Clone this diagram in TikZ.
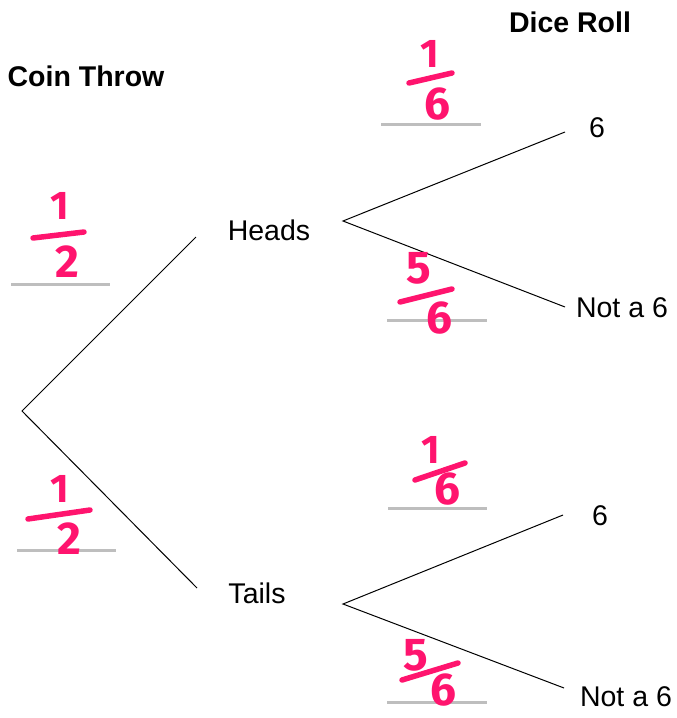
\documentclass[tikz,border=0pt]{standalone}
\usepackage{fontspec}
\setmainfont{Liberation Sans}
\newfontfamily\hand{Fira Sans}
\definecolor{ink}{RGB}{255,20,110}
\definecolor{rulegray}{RGB}{190,190,190}
\begin{document}
\begin{tikzpicture}[x=1pt,y=-1pt,
  branch/.style={line width=1pt, black},
  answer/.style={draw=rulegray, line width=3pt},
  lbl/.style={font=\fontsize{28.5}{34}\selectfont, inner sep=0pt},
  title/.style={font=\bfseries\fontsize{28.5}{34}\selectfont, inner sep=0pt},
  digit/.style={font=\hand\bfseries\fontsize{46}{50}\selectfont, text=ink, inner sep=0pt},
  one/.style={digit, font=\hand\bfseries\fontsize{40}{44}\selectfont},
  bar/.style={draw=ink, line width=5.5pt, line cap=round}]
\useasboundingbox (0,0) rectangle (677,718);

% titles
\node[title] (coin) at (86,76) {Coin Throw};
\node[title] (dice) at (570,22) {Dice Roll};

% outcome labels
\node[lbl] (heads) at (269,230) {Heads};
\node[lbl] (tails) at (257,593) {Tails};
\node[lbl] (h6) at (597,128) {6};
\node[lbl] (hn6) at (622,308) {Not a 6};
\node[lbl] (t6) at (600,516) {6};
\node[lbl] (tn6) at (626,697) {Not a 6};

% branch points
\coordinate (root) at (22,411);
\coordinate (hin) at (196,237);
\coordinate (tin) at (197,588);
\coordinate (hout) at (343,221);
\coordinate (tout) at (343,604);
\coordinate (h6in) at (565,132);
\coordinate (hn6in) at (565,307);
\coordinate (t6in) at (563,515);
\coordinate (tn6in) at (564,688);

\draw[branch] (hin) -- (root) -- (tin);
\draw[branch] (h6in) -- (hout) -- (hn6in);
\draw[branch] (t6in) -- (tout) -- (tn6in);

% answer lines
\draw[answer] (381,124) -- (481,124);
\draw[answer] (11,284) -- (110,284);
\draw[answer] (387,320) -- (487,320);
\draw[answer] (388,508) -- (487,508);
\draw[answer] (17,550) -- (116,550);
\draw[answer] (387,702) -- (487,702);

% handwritten fractions
\node[one] (a1) at (430,54) {1};
\draw[bar] (409,83) -- (452,73);
\node[digit] (a6) at (437,104) {6};

\node[one] (b1) at (60,206) {1};
\draw[bar] (33,238) -- (84,232);
\node[digit] (b2) at (67,262) {2};

\node[digit] (c5) at (419,268) {5};
\draw[bar] (400,302) -- (452,289);
\node[digit] (c6) at (439,318) {6};

\node[one] (d1) at (431,450) {1};
\draw[bar] (415,480) -- (465,463);
\node[digit] (d6) at (447,489) {6};

\node[one] (e1) at (60,489) {1};
\draw[bar] (28,519) -- (90,510);
\node[digit] (e2) at (69,539) {2};

\node[digit] (f5) at (416,655) {5};
\draw[bar] (402,680) -- (458,663);
\node[digit] (f6) at (443,690) {6};
\end{tikzpicture}
\end{document}
